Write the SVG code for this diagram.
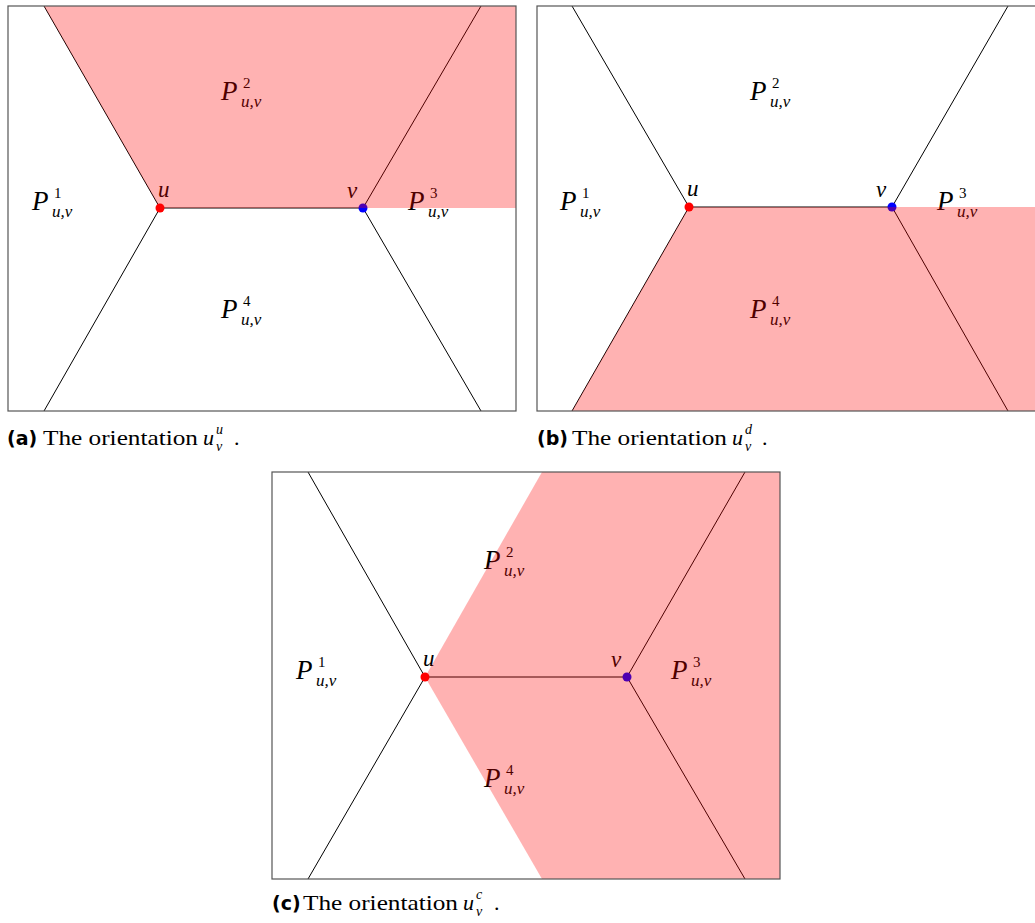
<svg xmlns="http://www.w3.org/2000/svg" width="1035" height="923" viewBox="0 0 1035 923">
<style>
.ln{stroke:#000;stroke-width:1;fill:none}
.box{stroke:#555;stroke-width:1.2;fill:none}
.pink{fill:#ff0000;fill-opacity:0.3;stroke:none}
.P{font-family:"Liberation Serif",serif;font-style:italic;font-size:27px;fill:#000}
.s{font-family:"Liberation Serif",serif;font-size:15px;fill:#000}
.si{font-family:"Liberation Serif",serif;font-style:italic;font-size:17px;fill:#000}
.lab{font-family:"Liberation Serif",serif;font-style:italic;font-size:23px;fill:#000}
.cap{font-family:"Liberation Serif",serif;font-size:22px;fill:#000}
.capb{font-family:"DejaVu Sans",sans-serif;font-weight:bold;font-size:19px;fill:#000}
.capi{font-family:"Liberation Serif",serif;font-style:italic;font-size:22px;fill:#000}
.capsi{font-family:"Liberation Serif",serif;font-style:italic;font-size:14px;fill:#000}
</style>
<rect width="1035" height="923" fill="#fff"/>

<!-- Panel a -->
<g id="panel-a">
<g id="connectors-a">
<line class="ln" x1="160" y1="208" x2="44" y2="6"/>
<line class="ln" x1="160" y1="208" x2="44" y2="411"/>
<line class="ln" x1="363" y1="208" x2="481" y2="6"/>
<line class="ln" x1="363" y1="208" x2="481" y2="411"/>
<line class="ln" x1="160" y1="208" x2="363" y2="208"/>
</g>
<g id="a-P1"><text class="P" x="32" y="210">P</text><text class="s" x="54" y="198">1</text><text class="si" x="52" y="217">u,v</text></g>
<g id="a-P2"><text class="P" x="221" y="100">P</text><text class="s" x="243" y="88">2</text><text class="si" x="241" y="107">u,v</text></g>
<g id="a-P3"><text class="P" x="408" y="210">P</text><text class="s" x="430" y="198">3</text><text class="si" x="428" y="217">u,v</text></g>
<g id="a-P4"><text class="P" x="221" y="318">P</text><text class="s" x="243" y="306">4</text><text class="si" x="241" y="325">u,v</text></g>
<g id="a-u"><circle cx="160" cy="208" r="4.5" fill="#ff0000"/><text class="lab" x="158" y="197">u</text></g>
<g id="a-v"><circle cx="363" cy="208" r="4.5" fill="#0000ff"/><text class="lab" x="347" y="198">v</text></g>
<polygon class="pink" points="44,6 516,6 516,208 160,208"/>
<rect class="box" x="8" y="6" width="508" height="405"/>
<g id="cap-a"><text class="capb" x="7" y="445">(a)</text><text class="cap" x="43" y="445" textLength="155" lengthAdjust="spacingAndGlyphs">The orientation</text><text class="capi" x="203" y="445">u</text><text class="capsi" x="216" y="434">u</text><text class="capsi" x="216" y="451">v</text><text class="cap" x="234" y="445">.</text></g>
</g>

<!-- Panel b -->
<g id="panel-b">
<g id="connectors-b">
<line class="ln" x1="689" y1="207" x2="572" y2="6"/>
<line class="ln" x1="689" y1="207" x2="572" y2="411"/>
<line class="ln" x1="892" y1="207" x2="1008" y2="6"/>
<line class="ln" x1="892" y1="207" x2="1008" y2="411"/>
<line class="ln" x1="689" y1="207" x2="892" y2="207"/>
</g>
<g id="b-P1"><text class="P" x="560" y="210">P</text><text class="s" x="582" y="198">1</text><text class="si" x="580" y="217">u,v</text></g>
<g id="b-P2"><text class="P" x="750" y="100">P</text><text class="s" x="772" y="88">2</text><text class="si" x="770" y="107">u,v</text></g>
<g id="b-P3"><text class="P" x="937" y="210">P</text><text class="s" x="959" y="198">3</text><text class="si" x="957" y="217">u,v</text></g>
<g id="b-P4"><text class="P" x="750" y="318">P</text><text class="s" x="772" y="306">4</text><text class="si" x="770" y="325">u,v</text></g>
<g id="b-u"><circle cx="689" cy="207" r="4.5" fill="#ff0000"/><text class="lab" x="687" y="196">u</text></g>
<g id="b-v"><circle cx="892" cy="207" r="4.5" fill="#0000ff"/><text class="lab" x="876" y="197">v</text></g>
<polygon class="pink" points="689,207 1045,207 1045,411 572,411"/>
<rect class="box" x="537" y="6" width="508" height="405"/>
<g id="cap-b"><text class="capb" x="537" y="445">(b)</text><text class="cap" x="572" y="445" textLength="155" lengthAdjust="spacingAndGlyphs">The orientation</text><text class="capi" x="732" y="445">u</text><text class="capsi" x="745" y="434">d</text><text class="capsi" x="745" y="451">v</text><text class="cap" x="762" y="445">.</text></g>
</g>

<!-- Panel c -->
<g id="panel-c">
<g id="connectors-c">
<line class="ln" x1="425" y1="677" x2="308" y2="472"/>
<line class="ln" x1="425" y1="677" x2="308" y2="879"/>
<line class="ln" x1="627" y1="677" x2="745" y2="472"/>
<line class="ln" x1="627" y1="677" x2="745" y2="879"/>
<line class="ln" x1="425" y1="677" x2="627" y2="677"/>
</g>
<g id="c-P1"><text class="P" x="296" y="679">P</text><text class="s" x="318" y="667">1</text><text class="si" x="316" y="686">u,v</text></g>
<g id="c-P2"><text class="P" x="484" y="569">P</text><text class="s" x="506" y="557">2</text><text class="si" x="504" y="576">u,v</text></g>
<g id="c-P3"><text class="P" x="671" y="679">P</text><text class="s" x="693" y="667">3</text><text class="si" x="691" y="686">u,v</text></g>
<g id="c-P4"><text class="P" x="484" y="787">P</text><text class="s" x="506" y="775">4</text><text class="si" x="504" y="794">u,v</text></g>
<g id="c-u"><circle cx="425" cy="677" r="4.5" fill="#ff0000"/><text class="lab" x="423" y="666">u</text></g>
<g id="c-v"><circle cx="627" cy="677" r="4.5" fill="#0000ff"/><text class="lab" x="611" y="667">v</text></g>
<polygon class="pink" points="425,677 542,472 780,472 780,879 542,879"/>
<rect class="box" x="272" y="472" width="508" height="407"/>
<g id="cap-c"><text class="capb" x="272" y="910">(c)</text><text class="cap" x="303" y="910" textLength="155" lengthAdjust="spacingAndGlyphs">The orientation</text><text class="capi" x="463" y="910">u</text><text class="capsi" x="476" y="899">c</text><text class="capsi" x="476" y="916">v</text><text class="cap" x="494" y="910">.</text></g>
</g>
</svg>
